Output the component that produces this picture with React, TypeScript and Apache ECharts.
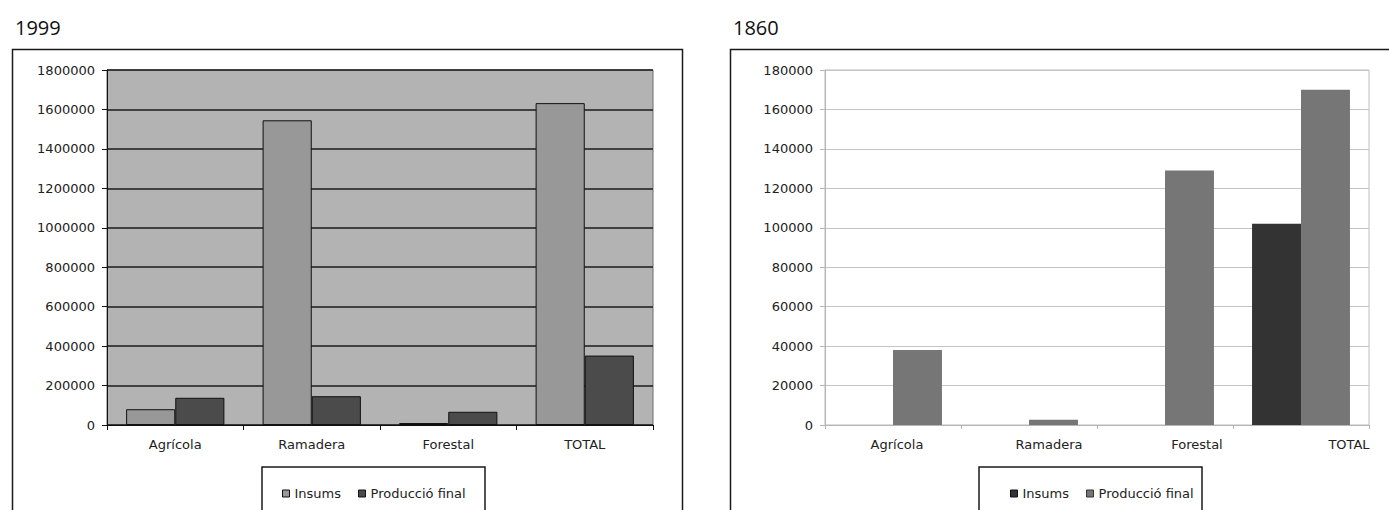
import { useEffect, useRef } from 'react';
import * as echarts from 'echarts';

// Categories shared by both panels
const categories = ['Agrícola', 'Ramadera', 'Forestal', 'TOTAL'];
const seriesNames = ['Insums', 'Producció final'];

// 1999 values
const insums1999 = [80000, 1545000, 10000, 1632000];
const produccio1999 = [138000, 146000, 67000, 352000];

// 1860 values (no input data for the individual sectors)
const insums1860 = [null, null, null, 102000];
const produccio1860 = [38000, 2700, 129000, 170000];

// Panel titles
const panelTitles = ['1999', '1860'];

const FONT = 'DejaVu Sans';
const TEXT = '#222';

// left padding applied to each 1860 category label
const labelPad1860 = [8, 40, 64, 96];

function buildOption(): echarts.EChartsOption {
  const labelStyle = { fontFamily: FONT, fontSize: 13, color: TEXT };
  const plain = (v: number) => String(v);
  const rich: Record<string, any> = {};
  labelPad1860.forEach((p, i) => {
    rich['s' + i] = { ...labelStyle, padding: [0, 0, 0, p] };
  });

  return {
    animation: false,
    backgroundColor: '#fff',
    title: panelTitles.map((t, i) => ({
      text: t,
      left: i === 0 ? 10 : 728,
      top: 12,
      textStyle: { fontFamily: 'Open Sans', fontSize: 20, fontWeight: 'normal', color: '#111' },
    })),
    grid: [
      { left: 107, top: 70, width: 546, height: 355, show: true, backgroundColor: '#b3b3b3', borderColor: '#6a6a6a', borderWidth: 1 },
      { left: 825, top: 70, width: 544, height: 355, show: true, backgroundColor: '#fff', borderColor: '#bdbdbd', borderWidth: 1 },
    ],
    xAxis: [
      {
        type: 'category',
        gridIndex: 0,
        data: categories,
        axisLine: { lineStyle: { color: '#111', width: 1 } },
        axisTick: { show: true, length: 5, lineStyle: { color: '#111' } },
        axisLabel: { margin: 13, ...labelStyle },
      },
      {
        type: 'category',
        gridIndex: 1,
        data: categories,
        axisLine: { lineStyle: { color: '#b5b5b5', width: 1 } },
        axisTick: { show: true, length: 4, lineStyle: { color: '#b5b5b5' } },
        axisLabel: {
          margin: 13,
          ...labelStyle,
          formatter: (v: string) => `{s${categories.indexOf(v)}|${v}}`,
          rich,
        },
      },
    ],
    yAxis: [
      {
        type: 'value',
        gridIndex: 0,
        min: 0,
        max: 1800000,
        interval: 200000,
        axisLine: { show: true, lineStyle: { color: '#111' } },
        axisTick: { show: true, length: 5, lineStyle: { color: '#111' } },
        splitLine: { show: true, lineStyle: { color: '#1a1a1a', width: 1.5 } },
        axisLabel: { margin: 12, formatter: plain, ...labelStyle },
      },
      {
        type: 'value',
        gridIndex: 1,
        min: 0,
        max: 180000,
        interval: 20000,
        axisLine: { show: true, lineStyle: { color: '#b5b5b5' } },
        axisTick: { show: true, length: 5, lineStyle: { color: '#b5b5b5' } },
        splitLine: { show: true, lineStyle: { color: '#c4c4c4', width: 1.2 } },
        axisLabel: { margin: 12, formatter: plain, ...labelStyle },
      },
    ],
    legend: [
      {
        left: 277,
        top: 482,
        icon: 'rect',
        itemWidth: 7,
        itemHeight: 7,
        itemGap: 17,
        selectedMode: false,
        textStyle: { fontFamily: FONT, fontSize: 13, color: TEXT },
        data: [
          { name: seriesNames[0], itemStyle: { color: '#989898', borderColor: '#111', borderWidth: 1 } },
          { name: seriesNames[1], itemStyle: { color: '#4b4b4b', borderColor: '#111', borderWidth: 1 } },
        ],
      },
      {
        left: 1005,
        top: 482,
        icon: 'rect',
        itemWidth: 7,
        itemHeight: 7,
        itemGap: 17,
        selectedMode: false,
        textStyle: { fontFamily: FONT, fontSize: 13, color: TEXT },
        data: [
          { name: seriesNames[0], itemStyle: { color: '#333333', borderColor: '#111', borderWidth: 1 } },
          { name: seriesNames[1], itemStyle: { color: '#767676', borderColor: '#333', borderWidth: 1 } },
        ],
      },
    ],
    graphic: [
      // panel frames
      { type: 'rect', z: 0, shape: { x: 12.5, y: 49.5, width: 670, height: 500 }, style: { fill: 'none', stroke: '#1a1a1a', lineWidth: 1.5 } },
      { type: 'rect', z: 0, shape: { x: 730.5, y: 49.5, width: 700, height: 500 }, style: { fill: 'none', stroke: '#1a1a1a', lineWidth: 1.5 } },
      // legend frames
      { type: 'rect', z: 0, shape: { x: 262, y: 467, width: 223, height: 80 }, style: { fill: '#fff', stroke: '#1a1a1a', lineWidth: 1.5 } },
      { type: 'rect', z: 0, shape: { x: 979, y: 467, width: 223, height: 80 }, style: { fill: '#fff', stroke: '#1a1a1a', lineWidth: 1.5 } },
    ],
    series: [
      {
        name: seriesNames[0],
        type: 'bar',
        xAxisIndex: 0,
        yAxisIndex: 0,
        data: insums1999,
        barCategoryGap: '28%',
        barGap: '0%',
        itemStyle: { color: '#989898', borderColor: '#111', borderWidth: 1 },
      },
      {
        name: seriesNames[1],
        type: 'bar',
        xAxisIndex: 0,
        yAxisIndex: 0,
        data: produccio1999,
        barCategoryGap: '28%',
        barGap: '0%',
        itemStyle: { color: '#4b4b4b', borderColor: '#111', borderWidth: 1 },
      },
      {
        name: seriesNames[0],
        type: 'bar',
        xAxisIndex: 1,
        yAxisIndex: 1,
        data: insums1860,
        barCategoryGap: '28%',
        barGap: '0%',
        itemStyle: { color: '#333333' },
      },
      {
        name: seriesNames[1],
        type: 'bar',
        xAxisIndex: 1,
        yAxisIndex: 1,
        data: produccio1860,
        barCategoryGap: '28%',
        barGap: '0%',
        itemStyle: { color: '#767676' },
      },
    ],
  };
}

export default function App() {
  const ref = useRef<HTMLDivElement>(null);
  useEffect(() => {
    if (!ref.current) return;
    const chart = echarts.init(ref.current, null, { renderer: 'svg' });
    chart.setOption(buildOption());
    return () => chart.dispose();
  }, []);
  return (
    <div
      ref={ref}
      style={{ position: 'fixed', left: 0, top: 0, width: 1389, height: 510, background: '#fff' }}
    />
  );
}
